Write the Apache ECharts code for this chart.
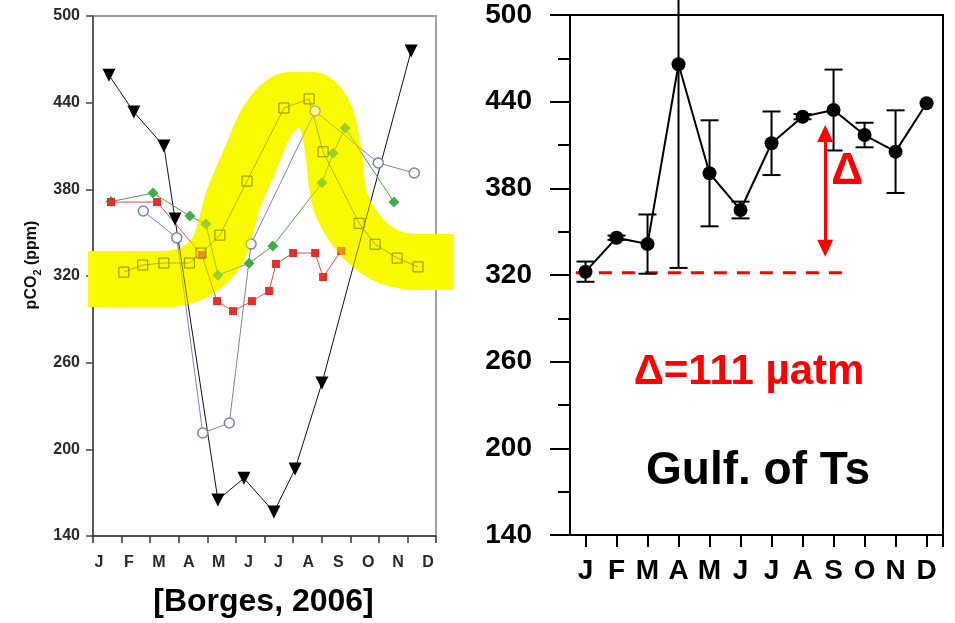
<!DOCTYPE html>
<html><head><meta charset="utf-8">
<script src="https://cdn.jsdelivr.net/npm/echarts@6/dist/echarts.min.js"></script>
<style>html,body{margin:0;padding:0;background:#fff}#c{width:955px;height:623px}</style>
</head><body><div id="c"></div>
<script>
// ---------- shared ----------
const monthLetters = ['J','F','M','A','M','J','J','A','S','O','N','D'];
const yMin = 140, yMax = 500, yStep = 60;

// ---------- left panel [Borges, 2006]  (x = month position, 0 = start of Jan) ----------
const triX = [0.56, 1.43, 2.48, 2.87, 4.37, 5.28, 6.33, 7.07, 8.01, 11.13];
const triY = [459, 433.5, 410, 359.4, 165, 180, 156.6, 186.4, 245.9, 475.8];

const redX = [0.63, 2.24, 3.81, 4.34, 4.90, 5.56, 6.16, 6.40, 7.00, 7.77, 8.05, 8.68];
const redY = [371.2, 371.2, 334.5, 302.6, 295.7, 302.6, 309.6, 328.3, 335.9, 335.9, 319.3, 337.3];

const greenX = [0.63, 2.10, 3.39, 3.95, 4.37, 5.46, 6.29, 8.01, 8.40, 8.82, 10.53];
const greenY = [371.5, 377.4, 361.5, 356.0, 320.6, 328.9, 340.7, 384.5, 405.0, 422.4, 371.2];

const blueX = [1.76, 2.93, 3.84, 4.77, 5.53, 7.77, 9.98, 11.24];
const blueY = [365.0, 346.4, 211.3, 218.2, 342.1, 434.2, 398.3, 391.3];

const sqX = [1.08, 1.74, 2.48, 3.37, 3.78, 4.44, 5.39, 6.68, 7.56, 8.05, 9.31, 9.87, 10.64, 11.37];
const sqY = [322.7, 327.6, 329.0, 329.0, 335.9, 348.3, 385.7, 436.3, 442.6, 406.0, 356.5, 342.0, 332.4, 326.3];

// hand-drawn yellow highlighter stroke (centre line)
const hlX = [-0.17, 2.52, 3.57, 4.37, 4.90, 5.49, 6.12, 6.89, 7.66, 8.15, 8.40, 8.64, 9.34, 10.22, 11.27, 12.6];
const hlY = [317.9, 317.9, 322.8, 338.0, 372.6, 400.3, 428.0, 441.8, 441.8, 429.4, 407.2, 372.6, 348.4, 334.5, 329.7, 329.7];

// ---------- right panel (Gulf of Trieste) ----------
const gulfMean = [322.3, 345.8, 341.4, 465.9, 390.4, 365.0, 411.2, 429.6, 434.2, 416.9, 405.4, 438.9];
const gulfErr  = [7.0, 1.5, 20.5, 141.0, 36.7, 5.8, 22.0, 1.8, 28.0, 8.5, 28.6, 0];
const baseLevel = 321.6;           // dashed winter-minimum reference
const baseFrom = -0.31, baseTo = 8.27;
const arrowX = 7.73, arrowLow = 338.6, arrowHigh = 418.0;

const zip = (a, b) => a.map((v, i) => [v, b[i]]);
const FONT = 'Liberation Sans, Arial, sans-serif';

const chart = echarts.init(document.getElementById('c'), null, {renderer: 'canvas'});

const leftLabelStyle = {fontFamily: FONT, fontWeight: 'bold', fontSize: 16, color: '#2a2a2a'};
const bigLabel = {fontFamily: FONT, fontWeight: 'bold', fontSize: 28, color: '#000'};

const option = {
  animation: false,
  backgroundColor: '#fff',
  grid: [
    {left: 93, top: 16, width: 343, height: 520, show: true, borderColor: '#a0a0a0', borderWidth: 2, backgroundColor: 'transparent'},
    {left: 570, top: 15, width: 373, height: 520, show: true, borderColor: '#000', borderWidth: 2, backgroundColor: 'transparent'},
    {left: 84, top: 536, width: 359, height: 1, show: false}
  ],
  xAxis: [
    {gridIndex: 0, type: 'value', min: 0, max: 12, interval: 1,
     axisLine: {show: true, lineStyle: {color: '#333', width: 1.5}},
     axisTick: {show: true, inside: false, length: 7, lineStyle: {color: '#333', width: 1.5}},
     axisLabel: {show: false}, splitLine: {show: false}},
    {gridIndex: 1, type: 'value', min: -0.5, max: 11.53,
     axisLine: {show: true, onZero: false, lineStyle: {color: '#000', width: 2}},
     axisTick: {show: true, length: 12, lineStyle: {color: '#000', width: 2},
                customValues: [0,1,2,3,4,5,6,7,8,9,10,11,11.53]},
     axisLabel: Object.assign({margin: 22, customValues: [0,1,2,3,4,5,6,7,8,9,10,11],
                formatter: v => monthLetters[Math.round(v)] || ''}, bigLabel),
     splitLine: {show: false}},
    {gridIndex: 2, type: 'category', data: monthLetters, boundaryGap: true,
     axisLine: {show: false}, axisTick: {show: false},
     axisLabel: Object.assign({margin: 18}, leftLabelStyle),
     name: '[Borges, 2006]', nameLocation: 'middle', nameGap: 49,
     nameTextStyle: {fontFamily: FONT, fontWeight: 'bold', fontSize: 32, color: '#000'}}
  ],
  yAxis: [
    {gridIndex: 0, type: 'value', min: yMin, max: yMax, interval: yStep,
     axisLine: {show: true, lineStyle: {color: '#444', width: 1.5}},
     axisTick: {show: true, length: 7, lineStyle: {color: '#444', width: 1.5}},
     axisLabel: Object.assign({margin: 13}, leftLabelStyle),
     splitLine: {show: false},
     name: '{a|pCO}{s|2}{a| (ppm)}', nameLocation: 'middle', nameGap: 50, nameRotate: 90,
     nameTextStyle: {padding: [0, 0, 0, 22], rich: {
       a: {fontFamily: FONT, fontWeight: 'bold', fontSize: 16, color: '#111', lineHeight: 22, verticalAlign: 'middle'},
       s: {fontFamily: FONT, fontWeight: 'bold', fontSize: 11, color: '#111', lineHeight: 22, verticalAlign: 'bottom'}
     }}},
    {gridIndex: 1, type: 'value', min: yMin, max: yMax, interval: yStep,
     axisLine: {show: true, onZero: false, lineStyle: {color: '#000', width: 2}},
     axisTick: {show: true, length: 20, lineStyle: {color: '#000', width: 2}},
     minorTick: {show: true, splitNumber: 2, length: 12, lineStyle: {color: '#000', width: 2}},
     axisLabel: Object.assign({margin: 38}, bigLabel),
     splitLine: {show: false}},
    {gridIndex: 2, type: 'value', show: false}
  ],
  series: [
    // yellow highlighter (under)
    {type: 'line', xAxisIndex: 0, yAxisIndex: 0, data: zip(hlX, hlY), smooth: 0.3, symbol: 'none', clip: false, silent: true, z: 1,
     lineStyle: {color: '#f5f500', width: 56, cap: 'butt', join: 'round'}},
    {type: 'line', xAxisIndex: 0, yAxisIndex: 0, data: zip(triX, triY), symbol: 'triangle', symbolRotate: 180, symbolSize: 13, z: 3,
     itemStyle: {color: '#000'}, lineStyle: {color: '#111', width: 1}},
    {type: 'line', xAxisIndex: 0, yAxisIndex: 0, data: zip(blueX, blueY), symbol: 'circle', symbolSize: 10, z: 3,
     itemStyle: {color: '#fff', borderColor: '#7a84b4', borderWidth: 1.5}, lineStyle: {color: '#7a84b4', width: 1}},
    {type: 'line', xAxisIndex: 0, yAxisIndex: 0, data: zip(greenX, greenY), symbol: 'diamond', symbolSize: 11, z: 3,
     itemStyle: {color: '#3fae49'}, lineStyle: {color: '#5a9a5a', width: 1}},
    {type: 'line', xAxisIndex: 0, yAxisIndex: 0, data: zip(redX, redY), symbol: 'rect', symbolSize: 8, z: 3,
     itemStyle: {color: '#e3302c'}, lineStyle: {color: '#d85050', width: 1}},
    {type: 'line', xAxisIndex: 0, yAxisIndex: 0, data: zip(sqX, sqY), symbol: 'rect', symbolSize: 10, z: 3,
     itemStyle: {color: 'rgba(0,0,0,0)', borderColor: '#333', borderWidth: 1}, lineStyle: {color: '#555', width: 0.8}},
    // yellow highlighter (translucent tint over markers)
    {type: 'line', xAxisIndex: 0, yAxisIndex: 0, data: zip(hlX, hlY), smooth: 0.3, symbol: 'none', clip: false, silent: true, z: 4,
     lineStyle: {color: 'rgba(255,255,0,0.45)', width: 56, cap: 'butt', join: 'round'}},

    // right panel
    {type: 'custom', xAxisIndex: 1, yAxisIndex: 1, clip: false, z: 3,
     data: gulfMean.map((m, i) => [i, m - gulfErr[i], m + gulfErr[i]]).filter((d, i) => gulfErr[i] > 0),
     encode: {x: 0, y: [1, 2]},
     renderItem: function (params, api) {
       const x = api.value(0);
       const lo = api.coord([x, api.value(1)]);
       const hi = api.coord([x, api.value(2)]);
       const w = 9, st = {stroke: '#000', lineWidth: 2};
       return {type: 'group', children: [
         {type: 'line', shape: {x1: lo[0], y1: lo[1], x2: hi[0], y2: hi[1]}, style: st},
         {type: 'line', shape: {x1: lo[0] - w, y1: lo[1], x2: lo[0] + w, y2: lo[1]}, style: st},
         {type: 'line', shape: {x1: hi[0] - w, y1: hi[1], x2: hi[0] + w, y2: hi[1]}, style: st}
       ]};
     }},
    {type: 'line', xAxisIndex: 1, yAxisIndex: 1, data: gulfMean.map((m, i) => [i, m]), symbol: 'circle', symbolSize: 14, z: 4,
     itemStyle: {color: '#000'}, lineStyle: {color: '#000', width: 2}},
    {type: 'line', xAxisIndex: 1, yAxisIndex: 1, data: [[baseFrom, baseLevel], [baseTo, baseLevel]], symbol: 'none', z: 2,
     lineStyle: {color: '#ff0000', width: 3, type: [13, 10]},
     markLine: {silent: true, symbol: ['triangle', 'triangle'], symbolSize: [16, 17], label: {show: false},
       lineStyle: {color: '#ff0000', width: 3, type: 'solid'},
       data: [[{coord: [arrowX, arrowLow]}, {coord: [arrowX, arrowHigh]}]]}}
  ],
  graphic: [
    {type: 'text', x: 847, y: 172, style: {text: 'Δ', fontFamily: FONT, fontWeight: 'bold', fontSize: 44, fill: '#ff0000', textAlign: 'center', textVerticalAlign: 'middle'}},
    {type: 'text', x: 749, y: 372, style: {text: 'Δ=111 µatm', fontFamily: FONT, fontWeight: 'bold', fontSize: 42, fill: '#ff0000', textAlign: 'center', textVerticalAlign: 'middle'}},
    {type: 'text', x: 758, y: 471, style: {text: 'Gulf. of Ts', fontFamily: FONT, fontWeight: 'bold', fontSize: 46, fill: '#000', textAlign: 'center', textVerticalAlign: 'middle'}}
  ]
};
chart.setOption(option);
</script>
</body></html>
